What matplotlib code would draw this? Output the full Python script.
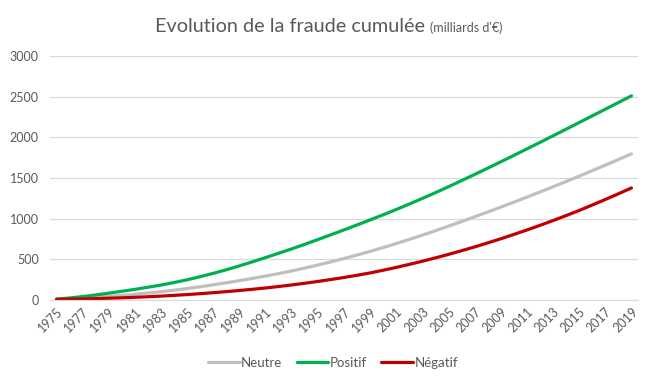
import numpy as np
from matplotlib import pyplot as plt

years = list(range(1975, 2020))

neutre = [10, 16, 24, 33, 44, 56, 70, 85, 102, 121, 141, 163, 187, 212, 238, 265, 294, 325, 358, 393,
          430, 469, 510, 553, 598, 645, 694, 745, 798, 852, 908, 965, 1023, 1082, 1142, 1203, 1265, 1328,
          1392, 1457, 1523, 1590, 1658, 1727, 1797]
positif = [10, 25, 42, 62, 84, 107, 131, 157, 184, 215, 249, 287, 328, 372, 420, 470, 522, 575, 629, 685,
           743, 802, 862, 923, 985, 1048, 1113, 1180, 1249, 1320, 1393, 1468, 1544, 1621, 1699, 1778, 1858,
           1938, 2019, 2100, 2182, 2264, 2346, 2428, 2510]
negatif = [8, 10, 13, 17, 22, 27, 33, 40, 48, 57, 67, 78, 90, 103, 117, 132, 148, 166, 185, 206,
           228, 252, 277, 304, 333, 366, 401, 438, 477, 518, 561, 606, 653, 702, 753, 806, 861, 918,
           977, 1038, 1101, 1168, 1236, 1306, 1378]

yticks = [0, 500, 1000, 1500, 2000, 2500, 3000]

plt.rcParams['font.family'] = ['Lato', 'DejaVu Sans']
txt = '#595959'

fig = plt.figure(figsize=(6.61, 3.86), dpi=100)
ax = fig.add_axes([50/661, 86/386, 588/661, 244/386])

ax.plot(years, neutre, color='#BFBFBF', lw=2.3, label='Neutre', solid_capstyle='round')
ax.plot(years, positif, color='#00B050', lw=2.3, label='Positif', solid_capstyle='round')
ax.plot(years, negatif, color='#C00000', lw=2.3, label='Négatif', solid_capstyle='round')

ax.set_xlim(1974.5, 2019.5)
ax.set_ylim(0, 3000)
ax.set_yticks(yticks)
ax.set_yticklabels([str(v) for v in yticks], color=txt, fontsize=9)
ax.set_xticks(years[::2])
ax.set_xticklabels([str(y) for y in years[::2]], rotation=45, ha='right', rotation_mode='anchor',
                   color=txt, fontsize=9)
ax.tick_params(length=0, pad=8)
ax.tick_params(axis='x', pad=4)
ax.grid(axis='y', color='#D9D9D9', lw=0.9)
ax.set_axisbelow(True)
for s in ['top', 'right', 'left']:
    ax.spines[s].set_visible(False)
ax.spines['bottom'].set_color('#D9D9D9')

fig.text(425/661, 1 - 32/386, 'Evolution de la fraude cumulée', ha='right', va='baseline',
         fontsize=14.3, color=txt)
fig.text(430/661, 1 - 32/386, "(milliards d'€)", ha='left', va='baseline', fontsize=9, color=txt)

fig.legend(loc='center', bbox_to_anchor=(333/661, 1 - 363/386), ncol=3, frameon=False,
           fontsize=9.5, labelcolor=txt, handlelength=2.4, handletextpad=0.1, columnspacing=1.1)

fig.savefig('out.png', dpi=100)
